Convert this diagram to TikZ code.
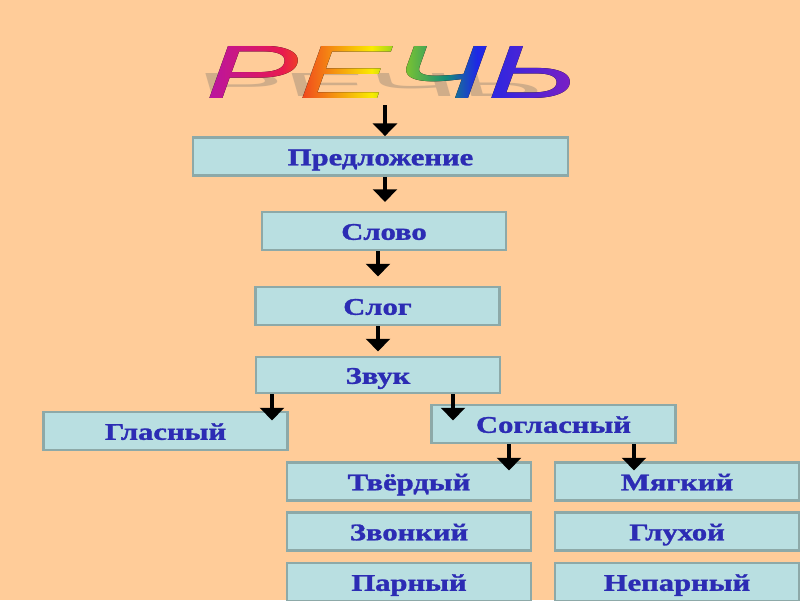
\documentclass[tikz,border=0pt]{standalone}
\usepackage{fontspec}
\setmainfont{Liberation Serif}[BoldFeatures={FakeBold=1.2}]
\newfontfamily\titlefont{Liberation Sans}
\usetikzlibrary{arrows.meta,fadings}

\definecolor{peach}{RGB}{255,204,153}
\definecolor{boxfill}{RGB}{185,223,225}
\definecolor{boxline}{RGB}{141,169,168}
\definecolor{boxtext}{RGB}{44,44,180}
\definecolor{titlebase}{RGB}{200,60,120}

% rainbow for the title letters (middle half of the shading fits the path)
\pgfdeclarehorizontalshading{rainbowtitle}{100bp}{%
  color(0bp)=(rgb,255:red,180;green,20;blue,170);
  color(25bp)=(rgb,255:red,180;green,20;blue,170);
  color(35.5bp)=(rgb,255:red,232;green,25;blue,80);
  color(38bp)=(rgb,255:red,240;green,70;blue,30);
  color(47bp)=(rgb,255:red,250;green,235;blue,0);
  color(50bp)=(rgb,255:red,150;green,210;blue,30);
  color(56.5bp)=(rgb,255:red,20;green,140;blue,120);
  color(60.5bp)=(rgb,255:red,30;green,40;blue,230);
  color(75bp)=(rgb,255:red,140;green,30;blue,190);
  color(100bp)=(rgb,255:red,140;green,30;blue,190)}

\tikzset{
  title/.style={inner sep=0pt,
    font=\titlefont\itshape\fontsize{54}{60}\selectfont},
  box/.style={draw=boxline, fill=boxfill, line width=2pt, minimum width=6.1cm,
    minimum height=0.95cm, inner sep=0pt, text=boxtext, text height=12.5pt,
    text depth=0pt, font=\fontsize{17}{19}\selectfont\bfseries},
  arr/.style={line width=3.4pt, -{Triangle[width=17pt,length=9pt]}}
}
\newcommand\boxtxt[1]{\scalebox{1.28}[1]{#1}}

\begin{tikzfadingfrompicture}[name=rechfade]
  \node[title, text=white] at (0,0) {\scalebox{1.85}[1]{РЕЧЬ}};
\end{tikzfadingfrompicture}

\begin{document}
\begin{tikzpicture}[x=0.025cm, y=-0.025cm]
  % background
  \fill[peach] (0,0) rectangle (800,600);
  \useasboundingbox (0,0) rectangle (800,600);
  % shadow of the title
  \fill[black!60, opacity=0.3, path fading=rechfade, fit fading=false,
    fading transform={shift={(368,85)}, xscale=0.92, yscale=0.45, xslant=-0.5}]
    (150,60) rectangle (620,115);
  % title
  \node[title, text=titlebase, opacity=0.12] (rech) at (392,72.2) {\scalebox{1.85}[1]{РЕЧЬ}};
  \fill[shading=rainbowtitle, path fading=rechfade, fit fading=false,
    fading transform={shift={(392,72.2)}}] (200,40) rectangle (590,105);
  \coordinate (rechfoot) at (385,105);
  % boxes
  \node[box, minimum width=9.375cm] (predl) at (380.5,156.5) {\boxtxt{Предложение}};
  \node[box] (slovo) at (384,231) {\boxtxt{Слово}};
  \node[box] (slog) at (377.5,306) {\boxtxt{Слог}};
  \node[box, minimum height=0.9cm] (zvuk) at (378,375) {\boxtxt{Звук}};
  \node[box] (glas) at (165.5,431) {\boxtxt{Гласный}};
  \node[box] (sogl) at (553.5,424) {\boxtxt{Согласный}};
  \node[box] (tverd) at (409,481.5) {\boxtxt{Твёрдый}};
  \node[box] (zvon) at (409,531.5) {\boxtxt{Звонкий}};
  \node[box] (parn) at (409,582) {\boxtxt{Парный}};
  \node[box] (myag) at (677,481.5) {\boxtxt{Мягкий}};
  \node[box] (glukh) at (677,531.5) {\boxtxt{Глухой}};
  \node[box] (neparn) at (677,582) {\boxtxt{Непарный}};
  % arrows
  \draw[arr] (rechfoot) -- (385,0 |- predl.north);
  \draw[arr] (385,0 |- predl.south) -- ++(0,25);
  \draw[arr] (378,0 |- slovo.south) -- ++(0,25);
  \draw[arr] (378,0 |- slog.south) -- ++(0,25);
  \draw[arr] (272,0 |- zvuk.south) -- ++(0,26);
  \draw[arr] (453,0 |- zvuk.south) -- ++(0,26);
  \draw[arr] (509,0 |- sogl.south) -- ++(0,26);
  \draw[arr] (634,0 |- sogl.south) -- ++(0,26);
\end{tikzpicture}
\end{document}
